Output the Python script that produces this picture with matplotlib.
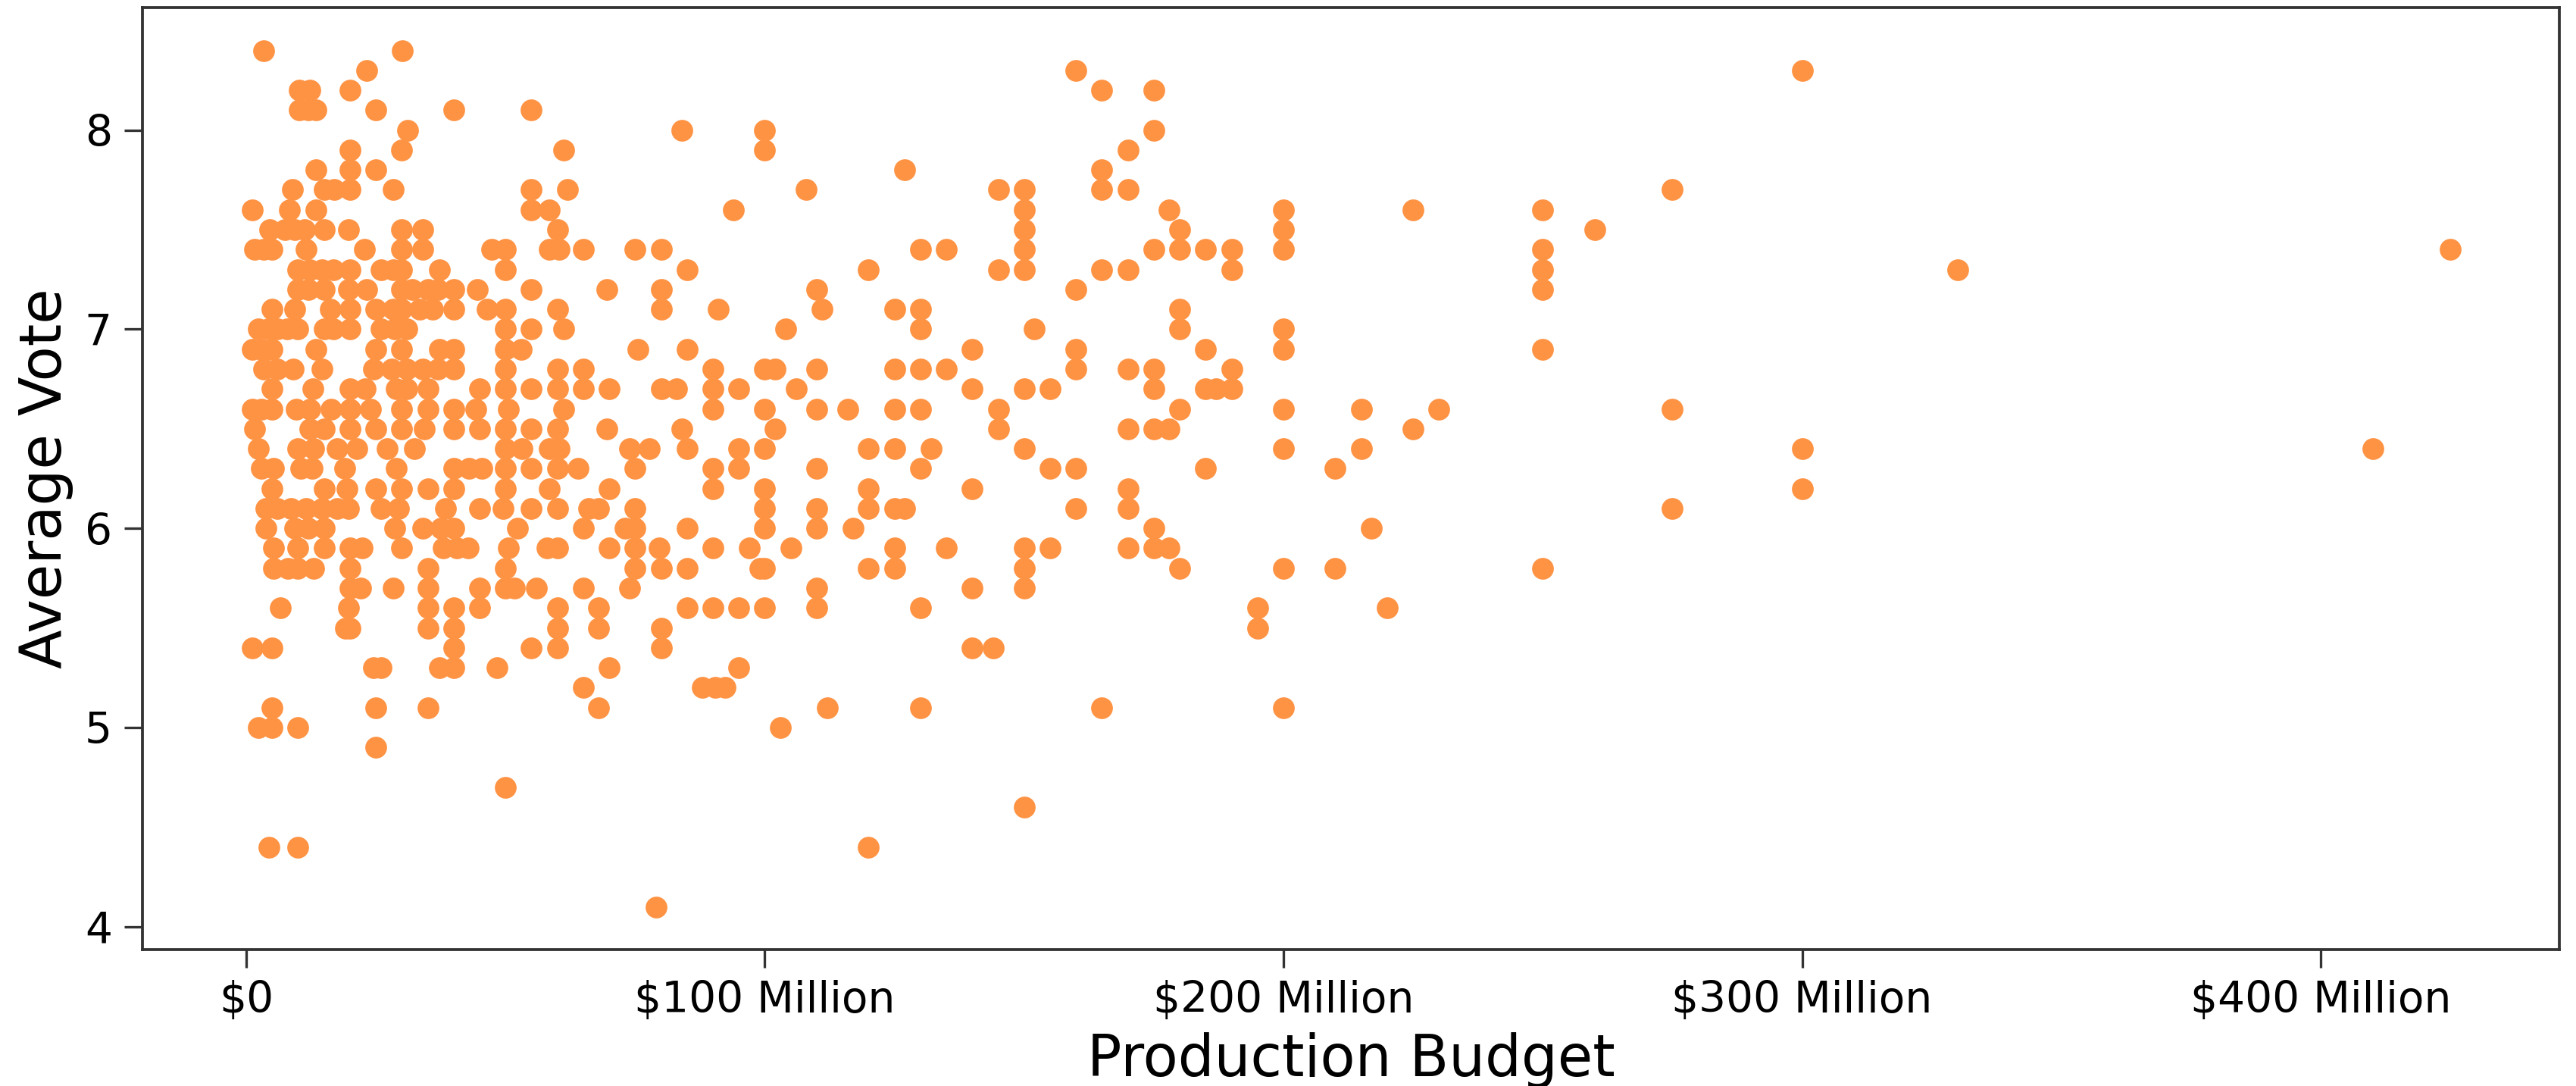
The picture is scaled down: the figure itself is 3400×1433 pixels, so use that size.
import matplotlib
matplotlib.use("Agg")
import matplotlib.pyplot as plt

# budget values in $ millions, grouped by average vote
v84 = [3.4, 30.1]
v83 = [23.3, 160, 300]
v82 = [10.2, 12.3, 20, 165, 175]
v81 = [10.2, 12, 13.4, 25, 40, 55]
v80 = [31.2, 84, 100, 175]
v79 = [20, 30, 61.2, 100, 170]
v78 = [13.4, 20, 25, 127, 165]
v77 = [8.9, 15, 17, 20, 28.4, 55, 62, 108, 145, 150, 165, 170, 275]
v76 = [1.2, 8.3, 13.4, 55, 58.4, 94, 150, 178, 200, 225, 250]
v75 = [4.5, 7.5, 9.4, 11.2, 15, 19.8, 30, 34, 60, 150, 180, 200, 260]
v74 = [1.6, 3.4, 5, 11.6, 22.8, 30, 34, 47.3, 50, 58.4, 60.3, 65, 75, 80, 130, 135, 150,
       175, 180, 185, 190, 200, 250, 425]
v73 = [10, 12.3, 14.6, 16.8, 20, 26, 28.3, 30, 37.2, 50, 85, 120, 145, 150, 165, 170, 190, 250, 330]
v72 = [10, 12, 15, 19.8, 23.3, 30, 32, 35, 37, 40, 44.5, 55, 69.6, 80, 110, 160, 250]
v71 = [5, 9.4, 16.3, 20, 25, 28.3, 30, 33.5, 36, 40, 46.5, 50, 60, 80, 91, 111, 125, 130, 180]
v70 = [2.3, 4.2, 6, 7.9, 10, 15, 16.8, 20, 26, 28.7, 31, 50, 55, 61.2, 104, 130, 152, 180, 200]
v69 = [1.2, 3, 5, 13.4, 25, 30, 37.2, 40, 50, 53, 75.5, 85, 140, 160, 185, 200, 250]
v68 = [3.4, 6, 9, 14.6, 24.6, 28, 31, 34, 37, 40, 50, 60, 65, 90, 100, 102, 110, 125, 130, 135,
       160, 170, 175, 190]
v67 = [5, 12.8, 20, 23, 29, 31, 35, 45, 50, 55, 60, 65, 70, 80, 83, 90, 95, 106, 140, 150, 155,
       175, 185, 187, 190]
v66 = [1.2, 3, 5, 9.7, 12.3, 16.4, 20, 24, 30, 35, 40, 44.3, 50.6, 61.2, 90, 100, 110, 116, 125,
       130, 145, 180, 200, 215, 230, 275]
v65 = [1.6, 12.3, 15, 20, 25, 30, 34.3, 40, 45, 50, 55, 60, 69.6, 84, 102, 145, 170, 175, 178, 225]
v64 = [2.3, 10, 13, 17.5, 21.3, 27.2, 32.4, 50, 53.2, 58.4, 60.3, 74, 77.8, 85, 95, 100, 120, 125,
       132, 150, 200, 215, 300, 410]
v63 = [3, 5.3, 10.5, 12.7, 19, 29, 40, 43, 45.4, 50, 55, 60, 64, 75, 90, 95, 110, 130, 155, 160, 185, 210]
v62 = [5, 15, 19.4, 25, 30, 35, 40, 50, 58.4, 70, 90, 100, 120, 140, 170, 300]
v61 = [3.8, 6, 8.6, 11.6, 14.6, 17.5, 19.8, 26, 29.4, 38.4, 45, 49.5, 55, 60, 66, 68, 75, 100, 110,
       120, 125, 127, 160, 170, 275]
v60 = [3.8, 9.4, 12, 15, 28.7, 34, 37.6, 40, 52.3, 65, 73, 75, 85, 100, 110, 117, 175, 217]
v59 = [5.3, 10, 15, 20, 22.4, 30, 38, 40.6, 42.8, 50.6, 58, 60, 70, 75, 79.6, 90, 97, 105, 125, 135,
       150, 155, 170, 175, 178]
v58 = [5.3, 8, 10, 13, 20, 35, 50, 75, 80, 85, 99, 100, 120, 125, 150, 180, 200, 210, 250]
v57 = [20, 22, 28.4, 35, 45, 50, 51.7, 56, 65, 74, 110, 140, 150]
v56 = [6.6, 19.8, 35, 40, 45, 60, 68, 85, 90, 95, 100, 110, 130, 195, 220]
v55 = [19.2, 20, 35, 40, 60, 68, 80, 195]
v54 = [1.2, 5, 40, 55, 60, 80, 140, 144]
v53 = [24.6, 26, 37.2, 40, 48.4, 70, 95]
v52 = [65, 88, 90.4, 92.3]
v51 = [5, 25, 35, 68, 112, 130, 165, 200]
v50 = [2.3, 5, 10, 103]
v49 = [25]
v47 = [50]
v46 = [150]
v44 = [4.4, 10, 120]
v41 = [79]

vote_levels = [8.4, 8.3, 8.2, 8.1, 8.0, 7.9, 7.8, 7.7, 7.6, 7.5, 7.4, 7.3, 7.2, 7.1, 7.0, 6.9, 6.8,
               6.7, 6.6, 6.5, 6.4, 6.3, 6.2, 6.1, 6.0, 5.9, 5.8, 5.7, 5.6, 5.5, 5.4, 5.3, 5.2, 5.1,
               5.0, 4.9, 4.7, 4.6, 4.4, 4.1]
budgets_by_level = [v84, v83, v82, v81, v80, v79, v78, v77, v76, v75, v74, v73, v72, v71, v70, v69,
                    v68, v67, v66, v65, v64, v63, v62, v61, v60, v59, v58, v57, v56, v55, v54, v53,
                    v52, v51, v50, v49, v47, v46, v44, v41]

x_tick_values = [0, 100, 200, 300, 400]
x_tick_labels = ["$0", "$100 Million", "$200 Million", "$300 Million", "$400 Million"]
y_tick_values = [4, 5, 6, 7, 8]

budgets = []
votes = []
for level, row in zip(vote_levels, budgets_by_level):
    budgets.extend(row)
    votes.extend([level] * len(row))

W, H = 3400, 1433
fig = plt.figure(figsize=(10, H / 340), dpi=340)
ax = fig.add_axes([188 / W, 1 - 1253 / H, (3378 - 188) / W, (1253 - 10) / H])
ax.scatter(budgets, votes, s=37, color="#FF9344", linewidths=0)
ax.set_xlim(-20, 446)
ax.set_ylim(3.885, 8.615)
ax.set_xticks(x_tick_values)
ax.set_xticklabels(x_tick_labels)
ax.set_yticks(y_tick_values)
ax.tick_params(axis="both", labelsize=12, length=5, width=0.7, color="#333333")
for s in ax.spines.values():
    s.set_linewidth(0.8)
    s.set_color("#333333")
ax.set_xlabel("Production Budget", fontsize=16, labelpad=3)
ax.set_ylabel("Average Vote", fontsize=16, labelpad=3.2)
fig.savefig("out.png", dpi=340)
